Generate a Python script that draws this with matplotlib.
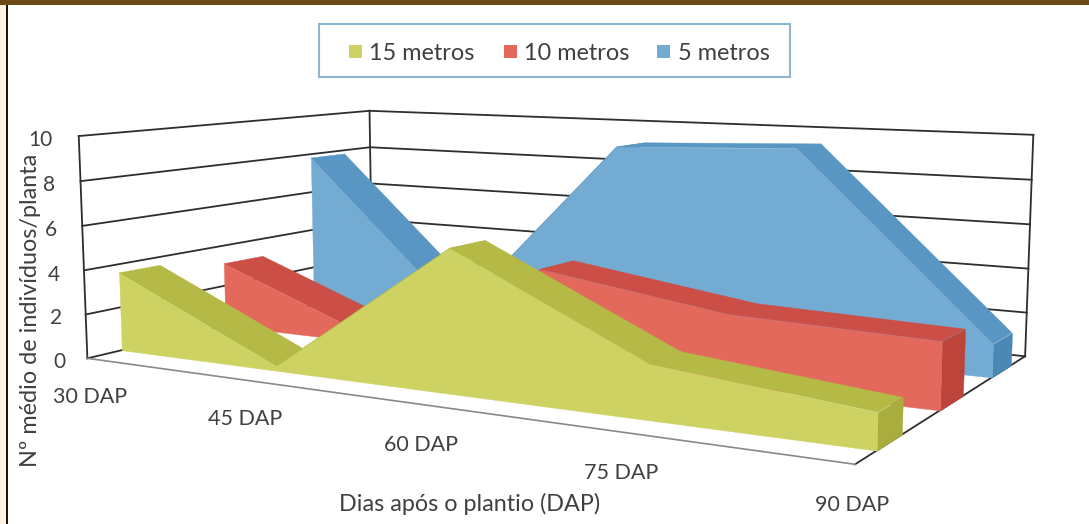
import matplotlib
matplotlib.use("Agg")
import matplotlib.pyplot as plt
from matplotlib.patches import Rectangle
from mpl_toolkits.mplot3d.art3d import Poly3DCollection

W, H = 1089, 524

days = ["30 DAP", "45 DAP", "60 DAP", "75 DAP", "90 DAP"]
metros_15 = [3.6, 0.2, 6.0, 2.2, 1.4]
metros_10 = [3.1, 0.2, 4.2, 3.0, 2.75]
metros_5 = [7.8, 0.4, 9.1, 9.4, 1.45]
z_ticks = [0, 2, 4, 6, 8, 10]

# front face, top strip, end cap
green = ("#cdd263", "#b5b945", "#a9ad3e")
red = ("#e2695c", "#cb4f46", "#bd443b")
blue = ("#74abd3", "#5a96c3", "#4a88b5")


def px(x, y):
    return x / W, 1 - y / H


def add_band(ax, values, y0, y1, colors, z):
    """Extruded area between depths y0 and y1."""
    xs = range(len(values))
    front = [(x, y0, 0) for x in xs] + [(x, y0, v) for x, v in reversed(list(zip(xs, values)))]
    strips = []
    for i in range(len(values) - 1):
        strips.append([(i, y0, values[i]), (i + 1, y0, values[i + 1]),
                       (i + 1, y1, values[i + 1]), (i, y1, values[i])])
    last = len(values) - 1
    cap = [(last, y0, 0), (last, y1, 0), (last, y1, values[last]), (last, y0, values[last])]
    for polys, color, dz in ((strips, colors[1], 0), ([cap], colors[2], 0.1), ([front], colors[0], 0.2)):
        coll = Poly3DCollection(polys, facecolor=color, edgecolor=color, linewidth=0.3, zorder=z + dz)
        ax.add_collection3d(coll)
        coll.set_clip_on(False)


fig = plt.figure(figsize=(W / 100, H / 100), dpi=100)
fig.patch.set_facecolor("white")
plt.rcParams["font.family"] = ["Lato", "DejaVu Sans"]

side = 943.83
ax = fig.add_axes([(544.29 - side / 2) / W, (263.90 - side / 2) / H, side / W, side / H], projection="3d")
ax.computed_zorder = False
ax.set_proj_type("persp", focal_length=0.3394)
ax.view_init(7.9063, -59.7515, 0.0449)
ax.set_box_aspect((3.6339, 2.1536, 1.0))
ax.set_xlim(0, 4)
ax.set_ylim(0, 1)
ax.set_zlim(0, 10)
ax.set_axis_off()
ax.patch.set_visible(False)

wall = dict(color="#2e2e2e", linewidth=1.3, zorder=1, clip_on=False)
for t in z_ticks:
    ax.plot([0, 0], [0, 1], [t, t], **wall)
    ax.plot([0, 4], [1, 1], [t, t], **wall)
ax.plot([0, 0], [0, 0], [0, 10], **wall)
ax.plot([0, 0], [1, 1], [0, 10], **wall)
ax.plot([4, 4], [1, 1], [0, 10], **wall)
ax.plot([4, 4], [0, 1], [0, 0], **wall)
ax.plot([0, 4], [0, 0], [0, 0], color="#8a8a8a", linewidth=1.2, zorder=1, clip_on=False)

add_band(ax, metros_5, 0.758, 0.893, blue, 2)
add_band(ax, metros_10, 0.432, 0.57, red, 3)
add_band(ax, metros_15, 0.10, 0.225, green, 4)

# tick labels and axis titles
text_color = "#404040"
z_label_pos = [(65, 362), (62, 318), (60, 275), (57, 230), (55, 185), (53, 140)]
for t, (x, y) in zip(z_ticks, z_label_pos):
    fig.text(*px(x, y), str(t), fontsize=15, color=text_color, ha="right", va="center")
x_label_pos = [(90, 397), (245, 419), (421, 445), (621, 473), (852, 505)]
for label, (x, y) in zip(days, x_label_pos):
    fig.text(*px(x, y), label, fontsize=15.5, color=text_color, ha="center", va="center")
fig.text(*px(470, 504), "Dias após o plantio (DAP)", fontsize=16.8, color=text_color, ha="center", va="center")
fig.text(*px(31, 310), "Nº médio de indivíduos/planta", fontsize=16.8, color=text_color,
         rotation=90, ha="center", va="center")

# legend box
fig.add_artist(Rectangle(px(319, 77), 471 / W, 53 / H, transform=fig.transFigure, facecolor="white",
                         edgecolor="#8db6d2", linewidth=1.5))
for name, color, sx, tx in (("15 metros", green[0], 349, 369), ("10 metros", red[0], 504, 524), ("5 metros", blue[0], 657, 678)):
    fig.add_artist(Rectangle(px(sx, 58), 13 / W, 13 / H, transform=fig.transFigure, facecolor=color, edgecolor="none"))
    fig.text(*px(tx, 53), name, fontsize=16.9, color=text_color, ha="left", va="center")

# page frame
fig.add_artist(Rectangle((0, 1 - 5 / H), 1, 5 / H, transform=fig.transFigure, facecolor="#6b4a17", edgecolor="none"))
fig.add_artist(Rectangle((0, 0), 5.5 / W, 1 - 5 / H, transform=fig.transFigure, facecolor="#fdf3e0", edgecolor="none"))
fig.add_artist(Rectangle((5.5 / W, 0), 2.5 / W, 1 - 5 / H, transform=fig.transFigure, facecolor="#1c1408", edgecolor="none"))

fig.savefig("out.png", dpi=100)
